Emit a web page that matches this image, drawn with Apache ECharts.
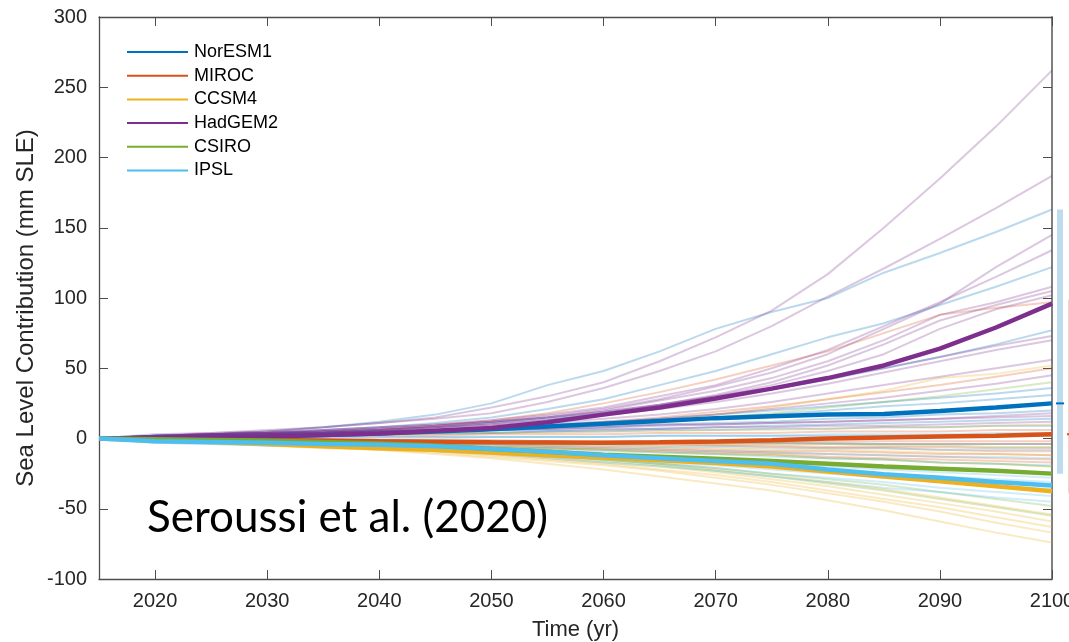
<!DOCTYPE html>
<html>
<head>
<meta charset="utf-8">
<title>Sea Level Contribution</title>
<script src="https://cdn.jsdelivr.net/npm/echarts@6/dist/echarts.min.js"></script>
<style>
  html, body { margin: 0; padding: 0; background: #fff; }
  #chart { width: 1069px; height: 642px; }
</style>
</head>
<body>
<div id="chart"></div>
<script>
// Time axis samples (every 5 years)
const years = [2015, 2020, 2025, 2030, 2035, 2040, 2045, 2050, 2055, 2060, 2065, 2070, 2075, 2080, 2085, 2090, 2095, 2100];
const xTicks = [2020, 2030, 2040, 2050, 2060, 2070, 2080, 2090, 2100];
const yTicks = [-100, -50, 0, 50, 100, 150, 200, 250, 300];

const models = ['NorESM1', 'MIROC', 'CCSM4', 'HadGEM2', 'CSIRO', 'IPSL'];
const modelColors = ['#0072BD', '#D95319', '#EDB120', '#7E2F8E', '#77AC30', '#4DBEEE'];

// Model means (mm SLE)
const NorESM1 = [0, 0.5, 1, 1.5, 2.5, 3.5, 5, 6.5, 8.5, 10.5, 12.5, 14.5, 15.8, 17, 17.5, 19.5, 22, 25];
const MIROC   = [0, 0, -0.5, -1, -1.5, -2, -2.3, -2.6, -2.8, -3, -2.7, -2.2, -1.2, 0, 0.8, 1.5, 2, 3];
const CCSM4   = [0, -1.5, -2.5, -4, -5.5, -7, -8, -10, -12, -13.5, -15.5, -17.5, -20, -23.5, -27, -30.5, -34, -37.5];
const HadGEM2 = [0, 0.5, 1, 1.5, 2.5, 3.5, 5.5, 7.5, 11.5, 17, 22, 28.5, 35.5, 43, 52, 64, 79, 96];
const CSIRO   = [0, -0.5, -1, -1.5, -2.5, -3.5, -5, -7.5, -9.5, -11.5, -13, -14.5, -16, -18, -20, -21.5, -23, -25];
const IPSL    = [0, -2, -2.5, -3, -4, -4.5, -5.5, -7.5, -9.5, -12, -14, -16, -18, -22, -25.5, -28, -31, -33.5];

// Individual ice-sheet model runs for each forcing model
const NorESM1Runs = [
  [0, 1, 3, 5, 8, 12, 17, 25, 38, 48, 62, 78, 90, 100, 118, 132, 147, 163],
  [0, 2, 3, 4, 6, 8, 11, 15, 21, 28, 38, 48, 60, 72, 82, 95, 108, 122],
  [0, 1, 2, 3, 5, 6, 8, 11, 14, 18, 23, 29, 35, 42, 50, 58, 67, 77],
  [0, 1, 2, 3, 4, 5, 6, 8, 10, 12, 14, 17, 20, 23, 26, 29, 32, 36],
  [0, 2, 3, 3, 4, 5, 6, 7, 9, 11, 13, 15, 17, 20, 23, 25, 28, 31],
  [0, 1, 2, 2, 3, 4, 5, 6, 7, 8, 10, 11, 12, 14, 15, 17, 18, 20],
  [0, 1, 1, 2, 2, 3, 3, 4, 5, 6, 7, 8, 9, 10, 11, 12, 13, 14],
  [0, 1, 2, 2, 3, 3, 4, 4, 5, 5, 6, 6, 7, 7, 8, 8, 9, 9],
  [0, 1, 1, 1, 1, 1, 1, 1, 1, 1, 2, 2, 2, 2, 2, 2, 2, 2],
  [0, 0, 0, -1, -1, -1, -2, -2, -2, -3, -3, -3, -3, -3, -4, -4, -4, -4]
];
const MIROCRuns = [
  [0, 1, 2, 3, 4, 6, 9, 13, 18, 25, 33, 42, 52, 62, 75, 88, 93, 97],
  [0, 1, 2, 3, 3, 4, 5, 7, 9, 12, 15, 19, 23, 28, 33, 38, 44, 50],
  [0, 1, 1, 1, 2, 2, 2, 3, 3, 3, 4, 4, 4, 5, 5, 5, 6, 6],
  [0, 0, 0, 0, -1, -1, -1, -1, -2, -2, -2, -2, -2, -2, -2, -2, -2, -2],
  [0, 0, 0, -1, -1, -1, -2, -2, -2, -3, -3, -3, -3, -4, -4, -4, -4, -4],
  [0, 0, -1, -1, -1, -2, -2, -3, -3, -4, -4, -5, -5, -6, -6, -6, -7, -7],
  [0, -1, -1, -1, -2, -2, -3, -3, -4, -4, -5, -5, -6, -7, -7, -8, -9, -9],
  [0, -1, -1, -2, -2, -3, -4, -4, -5, -6, -7, -8, -9, -9, -10, -11, -11, -12],
  [0, -1, -2, -2, -3, -4, -4, -5, -6, -7, -8, -9, -10, -11, -12, -13, -14, -15],
  [0, -1, -1, -2, -3, -4, -5, -6, -7, -8, -9, -10, -11, -13, -14, -15, -16, -17]
];
const CCSM4Runs = [
  [0, 1, 2, 2, 3, 4, 5, 6, 8, 10, 13, 17, 22, 28, 34, 43, 46, 52],
  [0, 1, 1, 2, 2, 3, 3, 4, 4, 5, 5, 6, 6, 7, 8, 8, 9, 10],
  [0, -1, -1, -2, -2, -3, -3, -4, -5, -5, -6, -7, -8, -8, -9, -10, -11, -12],
  [0, -1, -2, -2, -3, -4, -5, -6, -7, -8, -9, -11, -12, -14, -15, -17, -18, -20],
  [0, -1, -2, -3, -5, -6, -8, -10, -12, -15, -18, -22, -26, -31, -36, -42, -48, -54],
  [0, -1, -2, -4, -5, -7, -9, -11, -14, -17, -20, -24, -29, -34, -40, -46, -52, -59],
  [0, -1, -3, -4, -6, -7, -9, -12, -15, -18, -22, -26, -31, -37, -43, -49, -56, -63],
  [0, -2, -3, -5, -6, -8, -10, -13, -16, -19, -23, -28, -33, -39, -45, -52, -60, -67],
  [0, -1, -3, -5, -7, -8, -11, -14, -18, -22, -27, -32, -37, -44, -51, -59, -67, -74]
];
const HadGEM2Runs = [
  [0, 2, 4, 5, 8, 11, 15, 22, 30, 40, 55, 72, 91, 117, 150, 185, 222, 262],
  [0, 3, 4, 6, 8, 11, 14, 18, 26, 36, 48, 62, 80, 101, 121, 142, 164, 187],
  [0, 2, 3, 4, 5, 7, 9, 12, 16, 21, 28, 37, 47, 60, 78, 96, 122, 145],
  [0, 1, 3, 4, 6, 8, 10, 13, 17, 22, 30, 38, 50, 63, 80, 97, 115, 134],
  [0, 2, 3, 4, 5, 6, 8, 11, 15, 20, 27, 34, 43, 55, 70, 88, 97, 108],
  [0, 1, 2, 3, 4, 6, 8, 10, 13, 18, 24, 31, 40, 52, 67, 84, 95, 105],
  [0, 2, 3, 5, 6, 8, 10, 12, 15, 19, 24, 30, 38, 48, 60, 78, 92, 102],
  [0, 1, 3, 4, 5, 7, 9, 12, 15, 19, 24, 30, 36, 43, 50, 58, 66, 73],
  [0, 2, 3, 4, 5, 6, 8, 10, 13, 17, 21, 26, 32, 39, 47, 55, 63, 70],
  [0, 1, 2, 3, 4, 5, 7, 9, 11, 14, 17, 21, 26, 32, 38, 44, 50, 56],
  [0, 1, 2, 2, 3, 4, 5, 7, 9, 11, 14, 17, 21, 25, 29, 34, 39, 45],
  [0, 1, 2, 3, 3, 4, 5, 6, 7, 8, 9, 10, 11, 12, 13, 14, 16, 18],
  [0, 1, 2, 3, 4, 5, 6, 7, 8, 9, 10, 10, 11, 12, 13, 14, 15, 16],
  [0, 2, 3, 4, 4, 5, 5, 6, 6, 7, 7, 8, 8, 9, 9, 10, 11, 12]
];
const CSIRORuns = [
  [0, 1, 2, 2, 3, 4, 5, 6, 8, 10, 12, 15, 18, 22, 26, 30, 35, 40],
  [0, 0, -1, -1, -1, -2, -2, -2, -3, -3, -3, -4, -4, -4, -5, -5, -6, -6],
  [0, -1, -1, -2, -3, -4, -5, -6, -7, -8, -10, -11, -12, -14, -15, -17, -18, -20],
  [0, -1, -2, -3, -4, -6, -7, -9, -12, -15, -18, -21, -25, -29, -33, -38, -43, -48],
  [0, -1, -2, -3, -5, -6, -8, -10, -13, -16, -19, -23, -27, -32, -37, -43, -49, -55]
];
const IPSLRuns = [
  [0, -1, -1, -1, 0, 0, 0, 1, 1, 1, 2, 2, 2, 3, 3, 3, 4, 4],
  [0, -1, -2, -2, -3, -3, -4, -4, -5, -5, -6, -6, -7, -7, -7, -8, -8, -8],
  [0, -2, -2, -3, -3, -4, -4, -5, -6, -7, -8, -9, -10, -11, -12, -13, -13, -14],
  [0, -2, -3, -3, -4, -5, -6, -7, -8, -9, -10, -11, -13, -14, -15, -17, -18, -19],
  [0, -2, -3, -4, -5, -6, -7, -8, -10, -12, -14, -16, -18, -20, -22, -24, -26, -28],
  [0, -2, -3, -4, -5, -6, -7, -9, -11, -13, -15, -18, -20, -22, -25, -27, -29, -31],
  [0, -3, -4, -5, -5, -6, -8, -10, -12, -14, -17, -19, -22, -25, -28, -31, -34, -36],
  [0, -2, -3, -4, -5, -7, -8, -10, -13, -15, -18, -21, -25, -28, -31, -35, -38, -41],
  [0, -3, -4, -5, -6, -7, -9, -11, -14, -17, -20, -23, -27, -31, -35, -38, -42, -45]
];

// 2100 spread of runs, drawn as bars right of the axes
const rangeNames = ['NorESM1', 'MIROC'];
const rangeLow  = [-25, -39];
const rangeHigh = [163, 99];
const rangeMid  = [25, 3];

const means = [NorESM1, MIROC, CCSM4, HadGEM2, CSIRO, IPSL];
const runs = [NorESM1Runs, MIROCRuns, CCSM4Runs, HadGEM2Runs, CSIRORuns, IPSLRuns];

const pair = arr => years.map((y, i) => [y, arr[i]]);

const series = [];
runs.forEach((group, m) => {
  group.forEach((arr, k) => {
    series.push({
      name: models[m] + ' run ' + (k + 1),
      type: 'line',
      data: pair(arr),
      symbol: 'none',
      silent: true,
      z: 2,
      lineStyle: { color: modelColors[m], width: 2, opacity: 0.27 }
    });
  });
});
means.forEach((arr, m) => {
  series.push({
    name: models[m],
    type: 'line',
    data: pair(arr),
    symbol: 'none',
    z: 3,
    color: modelColors[m],
    lineStyle: { color: modelColors[m], width: 4.5 }
  });
});

const fillColors = ['rgba(0,114,189,0.25)', 'rgba(217,83,25,0.25)'];
series.push({
  name: 'range 2100',
  type: 'custom',
  clip: false,
  silent: true,
  z: 4,
  data: rangeNames.map((n, i) => [2100, rangeLow[i], rangeHigh[i], rangeMid[i]]),
  renderItem: function (params, api) {
    const i = params.dataIndex;
    const lo = api.coord([api.value(0), api.value(1)]);
    const hi = api.coord([api.value(0), api.value(2)]);
    const mid = api.coord([api.value(0), api.value(3)]);
    const cx = lo[0] + 8 + i * 11;
    const w = 6;
    return {
      type: 'group',
      children: [
        { type: 'rect', shape: { x: cx - w / 2, y: hi[1], width: w, height: lo[1] - hi[1] },
          style: { fill: fillColors[i] } },
        { type: 'line', shape: { x1: cx - w / 2 - 1, y1: mid[1], x2: cx + w / 2 + 1, y2: mid[1] },
          style: { stroke: modelColors[i], lineWidth: 2 } }
      ]
    };
  }
});

const axisFont = 'Liberation Sans';
const plain = v => String(v);
const chart = echarts.init(document.getElementById('chart'), null, { renderer: 'canvas' });
chart.setOption({
  animation: false,
  backgroundColor: '#fff',
  grid: { left: 99, right: 17, top: 17, bottom: 63, containLabel: false, outerBoundsMode: 'none' },
  legend: {
    data: models,
    orient: 'vertical',
    left: 126,
    top: 43,
    padding: 0,
    itemWidth: 61,
    itemHeight: 18,
    itemGap: 5.7,
    lineStyle: { width: 2 },
    itemStyle: { opacity: 0 },
    textStyle: { fontFamily: axisFont, fontSize: 18, color: '#000', padding: [0, 0, 0, 1] }
  },
  xAxis: [
    {
      type: 'value', min: 2015, max: 2100, position: 'bottom',
      name: 'Time (yr)', nameLocation: 'middle', nameGap: 40,
      nameTextStyle: { fontFamily: axisFont, fontSize: 22, color: '#262626' },
      axisLine: { onZero: false, lineStyle: { color: '#4d4d4d', width: 1.3 } },
      axisTick: { inside: true, length: 9, customValues: xTicks, lineStyle: { color: '#4d4d4d' } },
      axisLabel: { customValues: xTicks, formatter: plain, margin: 12, fontFamily: axisFont, fontSize: 20, color: '#262626' },
      splitLine: { show: false }
    },
    {
      type: 'value', min: 2015, max: 2100, position: 'top',
      axisLine: { onZero: false, lineStyle: { color: '#4d4d4d', width: 1.3 } },
      axisTick: { inside: true, length: 9, customValues: xTicks, lineStyle: { color: '#4d4d4d' } },
      axisLabel: { show: false },
      splitLine: { show: false }
    }
  ],
  yAxis: [
    {
      type: 'value', min: -100, max: 300, interval: 50, position: 'left',
      axisLine: { show: true, onZero: false, lineStyle: { color: '#4d4d4d', width: 1.3 } },
      axisTick: { show: true, inside: true, length: 9, lineStyle: { color: '#4d4d4d' } },
      axisLabel: { margin: 12, formatter: plain, fontFamily: axisFont, fontSize: 20, color: '#262626',
        customValues: yTicks },
      splitLine: { show: false }
    },
    {
      type: 'value', min: -100, max: 300, interval: 50, position: 'right',
      axisLine: { show: true, onZero: false, lineStyle: { color: '#7f7f7f', width: 2 } },
      axisTick: { show: true, inside: true, length: 9, lineStyle: { color: '#4d4d4d' } },
      axisLabel: { show: false },
      splitLine: { show: false }
    }
  ],
  graphic: [
    {
      type: 'text',
      x: 26,
      y: 308,
      rotation: Math.PI / 2,
      z: 10,
      style: {
        text: 'Sea Level Contribution (mm SLE)', fontFamily: axisFont, fontSize: 24,
        fill: '#262626', align: 'center', verticalAlign: 'middle'
      }
    },
    {
      type: 'text',
      left: 147,
      top: 496,
      z: 10,
      style: { text: 'Seroussi et al. (2020)', fontFamily: 'Lato', fontSize: 44, fill: '#000' }
    }
  ],
  series: series
});
</script>
</body>
</html>
